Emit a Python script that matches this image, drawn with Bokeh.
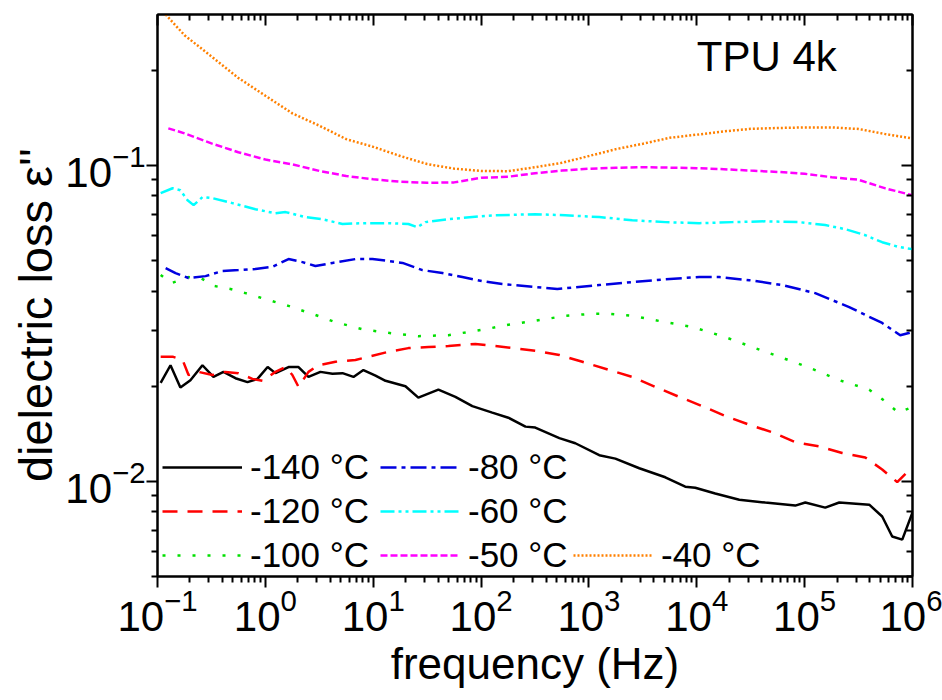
from bokeh.plotting import figure
from bokeh.models import LogAxis, FixedTicker, LogTickFormatter, Legend, LegendItem, Label, Range1d
from bokeh.embed import file_html
from bokeh.resources import INLINE

FONT = "Liberation Sans"

# ---------------- data ----------------
f_m140 = [0.107, 0.132, 0.163, 0.202, 0.261, 0.330, 0.409, 0.528, 0.683, 0.845, 1.05, 1.24,
          1.64, 2.03, 2.51, 3.24, 4.19, 5.19, 6.56, 8.11, 10.5, 13.0, 19.9, 26.2, 40.2, 57.8,
          83.0, 127, 179, 258, 318, 532, 748, 1247, 1758, 2931, 5105, 7816, 9680, 14830,
          24770, 43150, 81850, 101400, 155200, 209300, 397200, 523600, 648600, 803500, 1e6]
e_m140 = [0.0205, 0.0233, 0.0198, 0.0209, 0.0233, 0.0214, 0.0222, 0.0212, 0.0206, 0.0211,
          0.0230, 0.0220, 0.0230, 0.0230, 0.0214, 0.0222, 0.0219, 0.0220, 0.0214, 0.0225,
          0.0216, 0.0208, 0.0200, 0.0184, 0.0195, 0.0185, 0.0173, 0.0165, 0.0159, 0.0149,
          0.0148, 0.0137, 0.0132, 0.0121, 0.0118, 0.0110, 0.0103, 0.00962, 0.00955, 0.00915,
          0.00875, 0.00857, 0.00838, 0.00857, 0.00826, 0.00857, 0.00844, 0.00774, 0.00669,
          0.00654, 0.00797]

f_m120 = [0.107, 0.138, 0.171, 0.194, 0.240, 0.324, 0.427, 0.563, 0.759, 0.940, 1.24, 1.54,
          1.78, 2.03, 2.51, 3.10, 4.47, 6.84, 9.04, 13.8, 21.2, 32.5, 49.8, 88.5, 136, 242,
          318, 532, 869, 1547, 2523, 4121, 6887, 11250, 18370, 30690, 50120, 81850, 136500,
          222800, 364800, 523600, 721100, 1e6]
e_m120 = [0.0248, 0.0248, 0.0242, 0.0217, 0.0222, 0.0217, 0.0222, 0.0220, 0.0211, 0.0208,
          0.0222, 0.0230, 0.0217, 0.0199, 0.0222, 0.0233, 0.0239, 0.0242, 0.0248, 0.0257,
          0.0264, 0.0266, 0.0268, 0.0272, 0.0268, 0.0262, 0.0259, 0.0251, 0.0239, 0.0225,
          0.0214, 0.0199, 0.0185, 0.0173, 0.0161, 0.0151, 0.0143, 0.0133, 0.0129, 0.0123,
          0.0119, 0.0109, 0.00995, 0.0111]

f_m100 = [0.107, 0.135, 0.194, 0.251, 0.337, 0.475, 0.655, 0.863, 1.64, 2.91, 4.47, 7.94,
          13.8, 26.2, 49.8, 110, 179, 318, 604, 1076, 1547, 2523, 5105, 9080, 18370, 32680,
          61940, 110400, 209300, 397200, 558500, 737900, 1e6]
e_m100 = [0.0450, 0.0424, 0.0443, 0.0440, 0.0415, 0.0406, 0.0394, 0.0383, 0.0359, 0.0336,
          0.0319, 0.0303, 0.0295, 0.0288, 0.0290, 0.0303, 0.0313, 0.0322, 0.0334, 0.0339,
          0.0339, 0.0334, 0.0319, 0.0308, 0.0286, 0.0266, 0.0246, 0.0229, 0.0209, 0.0195,
          0.0179, 0.0165, 0.0172]

f_m80 = [0.119, 0.147, 0.194, 0.279, 0.400, 0.563, 0.809, 1.16, 1.64, 2.21, 2.91, 4.19,
         6.84, 9.84, 13.8, 18.7, 28.6, 43.8, 67.1, 103, 157, 318, 509, 1247, 2523, 5105,
         10540, 16180, 30690, 61940, 125400, 258800, 523600, 769000, 1e6]
e_m80 = [0.0473, 0.0456, 0.0440, 0.0446, 0.0463, 0.0466, 0.0470, 0.0477, 0.0505, 0.0494,
         0.0480, 0.0491, 0.0505, 0.0505, 0.0498, 0.0491, 0.0466, 0.0456, 0.0443, 0.0430,
         0.0421, 0.0412, 0.0406, 0.0418, 0.0427, 0.0436, 0.0443, 0.0443, 0.0433, 0.0418,
         0.0394, 0.0356, 0.0317, 0.0290, 0.0297]

f_m60 = [0.107, 0.138, 0.163, 0.190, 0.216, 0.261, 0.324, 0.495, 0.809, 1.24, 1.54, 2.35,
         3.38, 5.19, 7.94, 13.8, 21.2, 25.7, 30.5, 49.8, 83.0, 136, 318, 604, 1247, 2523,
         5105, 10540, 21330, 43150, 89130, 155200, 237700, 364800, 523600, 753400, 1e6]
e_m60 = [0.0816, 0.0846, 0.0834, 0.0775, 0.0748, 0.0793, 0.0787, 0.0759, 0.0726, 0.0705,
         0.0711, 0.0686, 0.0675, 0.0652, 0.0656, 0.0656, 0.0652, 0.0637, 0.0661, 0.0675,
         0.0686, 0.0695, 0.0700, 0.0695, 0.0686, 0.0670, 0.0661, 0.0656, 0.0661, 0.0665,
         0.0661, 0.0647, 0.0628, 0.0601, 0.0571, 0.0551, 0.0543]

f_m50 = [0.126, 0.178, 0.316, 0.562, 1, 1.78, 3.16, 5.62, 10, 17.8, 31.6, 56.2, 100, 178,
         316, 562, 1000, 1780, 3160, 5620, 1e4, 1.78e4, 3.16e4, 5.62e4, 1e5, 1.78e5, 3.16e5,
         5.62e5, 1e6]
e_m50 = [0.1309, 0.1262, 0.1173, 0.1100, 0.1043, 0.1007, 0.0960, 0.0925, 0.0903, 0.0887,
         0.0880, 0.0883, 0.0913, 0.0920, 0.0944, 0.0962, 0.0975, 0.0982, 0.0986, 0.0983,
         0.0979, 0.0972, 0.0962, 0.0953, 0.0940, 0.0917, 0.0900, 0.0845, 0.0804]

f_m40 = [0.1, 0.178, 0.316, 0.562, 1, 1.78, 3.16, 5.62, 10, 17.8, 31.6, 56.2, 100, 178,
         316, 562, 1000, 1780, 3160, 5620, 1e4, 1.78e4, 3.16e4, 5.62e4, 1e5, 1.78e5, 3.16e5,
         5.62e5, 1e6]
e_m40 = [0.320, 0.258, 0.221, 0.189, 0.166, 0.146, 0.1335, 0.121, 0.1144, 0.1070, 0.1009,
         0.0976, 0.0960, 0.0958, 0.0986, 0.1018, 0.1070, 0.1125, 0.1170, 0.1222, 0.1250,
         0.1280, 0.1304, 0.1312, 0.1318, 0.1318, 0.1303, 0.1255, 0.1216]

labels = ["-140 °C", "-120 °C", "-100 °C", "-80 °C", "-60 °C", "-50 °C", "-40 °C"]
colors = ["#000000", "#FF0000", "#00E000", "#0000E0", "#00FFFF", "#FF00FF", "#FF8000"]
dashes = ["solid", "15 10", "3 12", "16 5 4 5", "14 4 3 4 3 4", "7 3", "2 2"]

x_major = [0.1, 1, 10, 100, 1e3, 1e4, 1e5, 1e6]
y_major = [0.01, 0.1]
minor_mult = [2, 3, 4, 5, 6, 7, 8, 9]

x_minor = [m * d for d in x_major[:-1] for m in minor_mult]
y_minor = [m * d for d in [0.001, 0.01, 0.1] for m in minor_mult]

# ---------------- figure ----------------
p = figure(width=942, height=700, x_axis_type="log", y_axis_type="log",
           x_range=Range1d(0.1, 1e6), y_range=Range1d(0.005, 0.3),
           output_backend="svg", toolbar_location=None,
           min_border_left=157, min_border_right=30, min_border_top=14, min_border_bottom=124)
p.xgrid.visible = False
p.ygrid.visible = False
p.outline_line_color = "black"
p.outline_line_width = 2
p.background_fill_color = "white"
p.border_fill_color = "white"

def style_axis(ax, ticks, minors, inward, show_labels, label_size="44px"):
    ax.ticker = FixedTicker(ticks=ticks, minor_ticks=minors)
    ax.axis_line_color = "black"
    ax.axis_line_width = 2
    ax.major_tick_line_width = 2
    ax.minor_tick_line_width = 2
    if inward:
        ax.major_tick_in, ax.major_tick_out = 11, 0
        ax.minor_tick_in, ax.minor_tick_out = 6, 0
    else:
        ax.major_tick_in, ax.major_tick_out = 0, 11
        ax.minor_tick_in, ax.minor_tick_out = 0, 6
    if show_labels:
        ax.major_label_text_font = FONT
        ax.major_label_text_font_size = "42px"
        ax.major_label_text_color = "black"
        ax.axis_label_text_font = FONT
        ax.axis_label_text_font_size = label_size
        ax.axis_label_text_font_style = "normal"
        ax.axis_label_text_color = "black"
    else:
        ax.major_label_text_font_size = "1px"
        ax.major_label_text_alpha = 0
        ax.major_label_standoff = 0

xa = p.xaxis[0]
ya = p.yaxis[0]
style_axis(xa, x_major, x_minor, False, True, "44px")
style_axis(ya, y_major, y_minor, False, True, "47px")
xa.axis_label = "frequency (Hz)"
ya.axis_label = "dielectric loss ε''\u00a0\u00a0\u00a0"
xa.major_label_standoff = 0
ya.major_label_standoff = 1
xa.axis_label_standoff = 5
ya.axis_label_standoff = 0

top = LogAxis()
right = LogAxis()
style_axis(top, x_major, x_minor, True, False)
style_axis(right, y_major, y_minor, True, False)
p.add_layout(top, "above")
p.add_layout(right, "right")

series = [(f_m140, e_m140), (f_m120, e_m120), (f_m100, e_m100), (f_m80, e_m80),
          (f_m60, e_m60), (f_m50, e_m50), (f_m40, e_m40)]
rends = []
for (fx, ey), c, d in zip(series, colors, dashes):
    rends.append(p.line(fx, ey, line_color=c, line_width=2.5, line_dash=d))

def make_legend(idx, loc):
    leg = Legend(items=[LegendItem(label=labels[i], renderers=[rends[i]]) for i in idx],
                 location=loc, orientation="vertical",
                 label_text_font=FONT, label_text_font_size="35px", label_text_color="black",
                 glyph_width=80, glyph_height=20, label_standoff=8, spacing=4,
                 padding=0, margin=0, background_fill_alpha=0, border_line_alpha=0)
    p.add_layout(leg)

make_legend([0, 1, 2], (5, 1))
make_legend([3, 4, 5], (223, 1))
make_legend([6], (416, 1))

p.add_layout(Label(x=1e4, y=0.221, text="TPU 4k", text_font=FONT, text_font_size="42px",
                   text_color="black", text_baseline="alphabetic"))

open("out.html", "w").write(file_html(p, INLINE))
